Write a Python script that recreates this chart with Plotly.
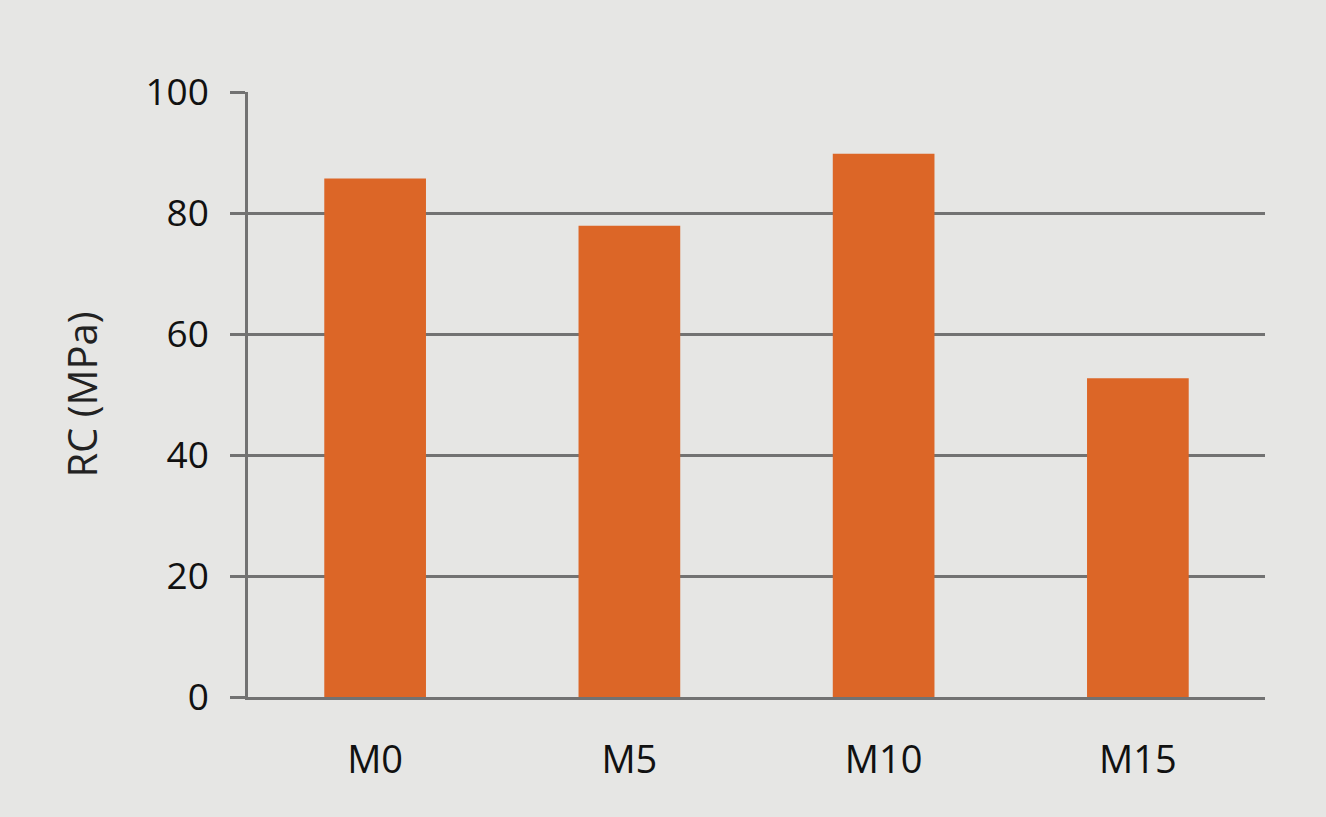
import plotly.graph_objects as go

# Compressive strength by mix
mixes = ["M0", "M5", "M10", "M15"]
rc_mpa = [85.7, 77.9, 89.8, 52.7]
y_ticks = [0, 20, 40, 60, 80, 100]

bg = "#e6e6e4"
grid = "#727272"

fig = go.Figure(
    data=[go.Bar(x=mixes, y=rc_mpa, marker=dict(color="#dc6627", line=dict(width=0)))]
)

fig.update_layout(
    width=1326, height=817,
    paper_bgcolor=bg, plot_bgcolor=bg,
    margin=dict(l=248, r=61, t=92, b=120),
    bargap=0.6,
    showlegend=False,
    font=dict(family="Open Sans", color="#111111"),
)

fig.update_yaxes(
    range=[0, 100], tickvals=y_ticks,
    showgrid=True, gridcolor=grid, gridwidth=2.5,
    zeroline=False,
    showline=True, linecolor=grid, linewidth=2.5,
    ticks="outside", ticklen=15, tickwidth=2.5, tickcolor=grid,
    tickfont=dict(size=37), ticklabelstandoff=14,
    title=dict(text="RC (MPa)", font=dict(size=40, color="#222222"), standoff=36),
)

fig.update_xaxes(
    showgrid=False, showline=True, linecolor=grid, linewidth=2.5,
    ticks="", tickfont=dict(size=38),
    ticklabelstandoff=28,
)

# drop the page margin so the grey background fills the window
fig.write_html("out.html", config={"displayModeBar": False},
               post_script="document.body.style.margin='0';")
